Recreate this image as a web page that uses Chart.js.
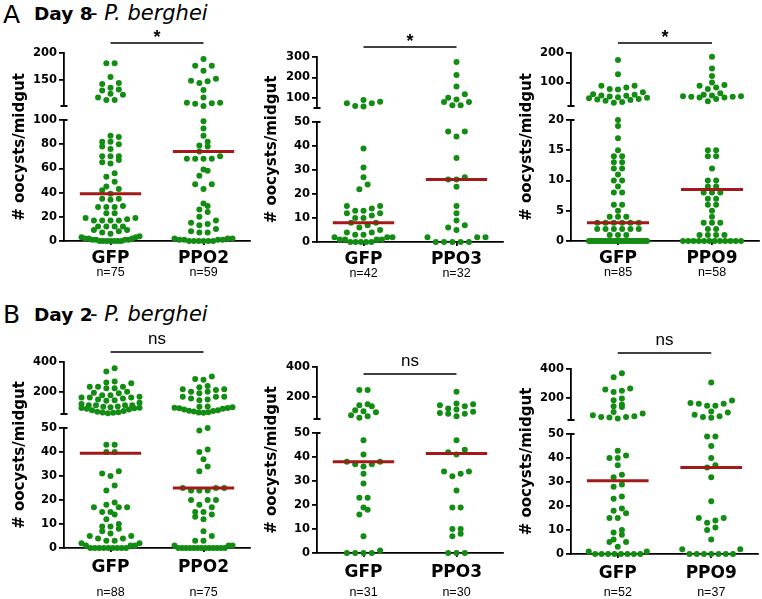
<!DOCTYPE html>
<html>
<head>
<meta charset="utf-8">
<script src="https://cdn.jsdelivr.net/npm/chart.js@4.4.1/dist/chart.umd.min.js"></script>
<style>
  body { margin: 0; width: 762px; height: 599px; background: #fff; position: relative; overflow: hidden; }
  canvas { position: absolute; }
  .t { position: absolute; white-space: nowrap; line-height: 1; font-family: 'DejaVu Sans'; color: #000; }
</style>
</head>
<body>
<div class="t" style="left:3px;top:2px;font-size:25px">A</div>
<div class="t" style="left:34px;top:5px;font-size:18.5px;font-weight:bold">Day 8</div>
<div class="t" style="left:90px;top:3px;font-size:21px">-<i> P. berghei</i></div>
<div class="t" style="left:3px;top:302px;font-size:25px">B</div>
<div class="t" style="left:34px;top:306px;font-size:18.5px;font-weight:bold">Day 2</div>
<div class="t" style="left:90px;top:304px;font-size:21px">-<i> P. berghei</i></div>
<script>
// ---- Day 8 ----
const catsA1 = ['GFP', 'PPO2'];
const nA1 = ['n=75', 'n=59'];
const gfpA1 = [181, 181, 155, 144, 142, 135, 132, 130, 124, 122, 117, 112, 112,
  87, 86, 82, 82, 80, 78, 76, 70, 70, 70, 67, 65, 64, 56, 53, 49, 45, 43, 42, 39, 35, 35, 34, 29, 28, 28, 28,
  23, 23, 19, 19, 18, 17, 17, 17, 17, 12, 12, 12, 12, 9, 9, 8, 7, 6,
  4, 3, 3, 2, 2, 2, 1, 1, 1, 1, 0, 0, 0, 0, 0, 0, 0];
const ppo2A1 = [189, 176, 176, 167, 152, 148, 147, 144, 131, 117, 107, 107, 106, 105, 101,
  99, 93, 87, 82, 79, 78, 74, 70, 68, 68, 68, 68, 59, 58, 54, 47, 47, 43, 31, 29, 26, 24, 20, 17, 15, 14, 13, 10, 8, 7, 7,
  2, 2, 2, 1, 1, 1, 1, 0, 0, 0, 0, 0, 0];
const medA1 = [39, 74];
const upRangeA1 = [101, 200];
const lowRangeA1 = [0, 100];
const upTicksA1 = [150, 200];
const lowTicksA1 = [0, 20, 40, 60, 80, 100];

const catsA2 = ['GFP', 'PPO3'];
const nA2 = ['n=42', 'n=32'];
const gfpA2 = [89, 81, 73, 73, 60, 57,
  39, 31, 27, 24, 22, 15, 15, 14, 13, 13, 12, 12, 11, 10, 10, 8, 8, 7, 6, 5, 4, 4, 3, 3, 2, 2, 2, 1, 1, 1, 1, 0, 0, 0, 0, 0];
const ppo3A2 = [276, 212, 156, 118, 100, 92, 79, 79, 63, 63,
  46, 46, 44, 35, 27, 26, 26, 23, 15, 12, 9, 7, 6, 5, 2, 2, 2, 0, 0, 0, 0, 0];
const medA2 = [8, 26];
const upRangeA2 = [50, 300];
const lowRangeA2 = [0, 50];
const upTicksA2 = [100, 200, 300];
const lowTicksA2 = [0, 10, 20, 30, 40, 50];

const catsA3 = ['GFP', 'PPO9'];
const nA3 = ['n=85', 'n=58'];
const gfpA3 = [176, 128, 89, 89, 83, 78, 76, 67, 60, 58, 56, 55, 52, 50, 48, 46, 44, 42, 40, 38, 34, 31,
  20, 19, 17, 15, 14, 14, 13, 13, 12, 12, 11, 10, 10, 9, 8, 8, 6, 6, 5, 4, 4, 4, 3, 3, 3, 3, 3, 3, 2, 2, 2, 2, 2, 2, 1, 1, 1,
  0, 0, 0, 0, 0, 0, 0, 0, 0, 0, 0, 0, 0, 0, 0, 0, 0, 0, 0, 0, 0, 0, 0, 0, 0, 0];
const ppo9A3 = [187, 147, 122, 100, 91, 89, 83, 78, 63, 58, 56, 53, 53, 51, 51, 49, 49, 44, 36,
  15, 15, 14, 14, 12, 10, 10, 9, 9, 8, 8, 8, 7, 7, 6, 6, 5, 4, 3, 3, 3, 2, 2, 1, 1, 1, 1,
  0, 0, 0, 0, 0, 0, 0, 0, 0, 0, 0, 0];
const medA3 = [3, 8.5];
const upRangeA3 = [20, 200];
const lowRangeA3 = [0, 20];
const upTicksA3 = [100, 200];
const lowTicksA3 = [0, 5, 10, 15, 20];

// ---- Day 2 ----
const catsB1 = ['GFP', 'PPO2'];
const nB1 = ['n=88', 'n=75'];
const gfpB1 = [358, 336, 268, 262, 257, 234, 234, 234, 223, 223, 200, 193, 189, 177, 177, 166, 161, 161, 161, 155,
  148, 143, 139, 125, 118, 109, 109, 109, 109, 100, 98, 95, 92, 90, 88, 85, 80, 75, 70, 65, 62, 60, 58, 55,
  43, 43, 40, 40, 32, 31, 30, 26, 24, 19, 18, 17, 17, 17, 15, 15, 14, 12, 10, 9, 9, 8, 7, 6, 5, 5, 4, 4, 3, 3,
  2, 2, 1, 1, 1, 0, 0, 0, 0, 0, 0, 0, 0, 0];
const ppo2B1 = [302, 286, 280, 239, 230, 216, 216, 211, 200, 200, 189, 166, 166, 166, 155, 148, 143,
  100, 98, 95, 92, 90, 88, 85, 80, 75, 72, 70, 66, 62, 60, 58,
  50, 49, 41, 40, 37, 34, 32, 25, 25, 25, 24, 24, 24, 20, 20, 20, 18, 17, 15, 15, 14, 13, 12, 7, 5, 3, 3,
  1, 1, 1, 0, 0, 0, 0, 0, 0, 0, 0, 0, 0, 0, 0, 0];
const medB1 = [39.5, 25];
const upRangeB1 = [50, 400];
const lowRangeB1 = [0, 50];
const upTicksB1 = [200, 400];
const lowTicksB1 = [0, 10, 20, 30, 40, 50];

const catsB2 = ['GFP', 'PPO3'];
const nB2 = ['n=31', 'n=30'];
const gfpB2 = [245, 245, 150, 143, 136, 109, 102, 95, 75, 68, 59,
  47, 41, 38, 38, 37, 37, 36, 33, 29, 23, 23, 19, 18, 16, 7, 1, 0, 0, 0, 0];
const ppo3B2 = [234, 155, 150, 143, 136, 120, 114, 98, 91, 86, 86, 68,
  47, 43, 42, 41, 34, 34, 33, 32, 26, 19, 19, 10, 10, 8, 7, 0, 0, 0];
const medB2 = [38, 41.5];
const upRangeB2 = [50, 400];
const lowRangeB2 = [0, 50];
const upTicksB2 = [200, 400];
const lowTicksB2 = [0, 10, 20, 30, 40, 50];

const catsB3 = ['GFP', 'PPO9'];
const nB3 = ['n=52', 'n=37'];
const gfpB3 = [370, 343, 267, 260, 250, 243, 198, 186, 157, 145, 140, 105, 95, 83, 76, 71, 71, 67, 60,
  43, 41, 40, 40, 37, 33, 32, 29, 28, 24, 23, 19, 18, 17, 15, 15, 10, 9, 8, 6, 5, 5, 3, 1, 1,
  0, 0, 0, 0, 0, 0, 0, 0];
const ppo9B3 = [307, 184, 166, 161, 161, 148, 148, 109, 102, 86, 75, 70, 66,
  49, 49, 45, 40, 37, 36, 32, 22, 15, 15, 14, 13, 11, 10, 6, 2, 2, 0, 0, 0, 0, 0, 0, 0];
const medB3 = [30.5, 36];
const upRangeB3 = [50, 400];
const lowRangeB3 = [0, 50];
const upTicksB3 = [200, 400];
const lowTicksB3 = [0, 10, 20, 30, 40, 50];

const sigA = ['*', '*', '*'];
const sigB = ['ns', 'ns', 'ns'];

const GREEN = '#128c12';
const RED = '#a31818';
const DOT_R = 3;
const STEP = 8.3;     // px between dots in a row
const MAX_W = 58;     // widest a row may get
const BIN_H = 5.5;    // dots closer than this (px) share a row
const MED_HALF = 0.33;
const TITLE_LH = 18;

// page geometry for each panel (layout only)
const panels = [
  { box: [0, 25, 255, 265], axisX: 64, rightX: 250, topY: 53, upBotY: 106, lowTopY: 120, zeroY: 241, titleX: 20,
    h1: 25, labOff: 17.5, nOff: 32, sigY: 43, sig: sigA[0], cats: catsA1, nl: nA1, groups: [gfpA1, ppo2A1], med: medA1,
    up: upRangeA1, low: lowRangeA1, upTicks: upTicksA1, lowTicks: lowTicksA1 },
  { box: [248, 25, 260, 265], axisX: 317, rightX: 503, topY: 57, upBotY: 108, lowTopY: 122, zeroY: 242, titleX: 272,
    h1: 25, labOff: 17.5, nOff: 32, sigY: 47, sig: sigA[1], cats: catsA2, nl: nA2, groups: [gfpA2, ppo3A2], med: medA2,
    up: upRangeA2, low: lowRangeA2, upTicks: upTicksA2, lowTicks: lowTicksA2 },
  { box: [505, 25, 257, 265], axisX: 571, rightX: 760, topY: 53, upBotY: 106, lowTopY: 120, zeroY: 241, titleX: 527,
    h1: 25, labOff: 17.5, nOff: 32, sigY: 43, sig: sigA[2], cats: catsA3, nl: nA3, groups: [gfpA3, ppo9A3], med: medA3,
    up: upRangeA3, low: lowRangeA3, upTicks: upTicksA3, lowTicks: lowTicksA3 },
  { box: [0, 325, 255, 290], axisX: 64, rightX: 250, topY: 362, upBotY: 414, lowTopY: 428, zeroY: 548, titleX: 20,
    h1: 30, labOff: 20, nOff: 45, sigY: 352, sig: sigB[0], cats: catsB1, nl: nB1, groups: [gfpB1, ppo2B1], med: medB1,
    up: upRangeB1, low: lowRangeB1, upTicks: upTicksB1, lowTicks: lowTicksB1 },
  { box: [248, 325, 260, 290], axisX: 317, rightX: 503, topY: 367, upBotY: 419, lowTopY: 433, zeroY: 553, titleX: 272,
    h1: 30, labOff: 20, nOff: 40, sigY: 374, sig: sigB[1], cats: catsB2, nl: nB2, groups: [gfpB2, ppo3B2], med: medB2,
    up: upRangeB2, low: lowRangeB2, upTicks: upTicksB2, lowTicks: lowTicksB2 },
  { box: [505, 325, 257, 290], axisX: 571, rightX: 758, topY: 369, upBotY: 420, lowTopY: 434, zeroY: 554, titleX: 527,
    h1: 30, labOff: 20, nOff: 39, sigY: 353, sig: sigB[2], cats: catsB3, nl: nB3, groups: [gfpB3, ppo9B3], med: medB3,
    up: upRangeB3, low: lowRangeB3, upTicks: upTicksB3, lowTicks: lowTicksB3 }
];

Chart.defaults.font.family = 'DejaVu Sans';
Chart.defaults.color = '#000';

const tickFont = { family: 'DejaVu Sans', weight: 'bold', size: 11.5 };

function setTicks(list) {
  return scale => { scale.ticks = list.map(v => ({ value: v })); };
}

// arrange the dots of each column in rows, like a scatter dot plot
function swarm(chart, p) {
  const xs = chart.scales.x;
  const pts = [];
  [0, 1].forEach(di => {
    const ds = chart.data.datasets[di];
    const sc = chart.scales[ds.yAxisID];
    ds.data.forEach(pt => pts.push({ pt, py: sc.getPixelForValue(pt.y) }));
  });
  p.cats.forEach((_, c) => {
    const grp = pts.filter(o => o.pt.c === c).sort((a, b) => b.py - a.py || a.pt.y - b.pt.y);
    const cx = xs.getPixelForValue(c + 1);
    let i = 0;
    while (i < grp.length) {
      let j = i + 1;
      while (j < grp.length && grp[i].py - grp[j].py < BIN_H) j++;
      const row = grp.slice(i, j).sort((a, b) => a.pt.y - b.pt.y);
      const n = row.length;
      const step = n > 1 ? Math.min(STEP, MAX_W / (n - 1)) : 0;
      const slots = [];
      for (let k = 0; k < n; k++) slots.push((k - (n - 1) / 2) * step);
      slots.sort((a, b) => Math.abs(a) - Math.abs(b) || a - b);
      row.forEach((o, k) => { o.pt.x = xs.getValueForPixel(cx + slots[k]); });
      i = j;
    }
  });
  chart.update('none');
}

function makePanel(p) {
  const [L, T, W, H] = p.box;
  const cv = document.createElement('canvas');
  cv.width = W; cv.height = H;
  cv.style.left = L + 'px';
  cv.style.top = T + 'px';
  document.body.appendChild(cv);

  const h2 = 22;
  const padLeft = p.titleX - L - TITLE_LH / 2;
  const yW = p.axisX - L - padLeft - TITLE_LH;
  const padBottom = T + H - p.zeroY - p.h1 - h2;

  const upper = [], lower = [];
  p.groups.forEach((vals, c) => {
    vals.forEach(v => (v > p.low[1] ? upper : lower).push({ x: c + 1, y: v, c }));
  });

  const dotStyle = { backgroundColor: GREEN, borderWidth: 0, pointRadius: DOT_R, pointHoverRadius: DOT_R, clip: false, order: 1 };
  const datasets = [
    Object.assign({ data: upper, yAxisID: 'yUp' }, dotStyle),
    Object.assign({ data: lower, yAxisID: 'yLow' }, dotStyle)
  ];
  p.med.forEach((m, c) => {
    datasets.push({
      data: [{ x: c + 1 - MED_HALF, y: m }, { x: c + 1 + MED_HALF, y: m }],
      yAxisID: m > p.low[1] ? 'yUp' : 'yLow',
      showLine: true, borderColor: RED, borderWidth: 3, pointRadius: 0, clip: false, order: 0
    });
  });

  const axisLine = { color: '#000', width: 1.8 };
  const tickGrid = { drawOnChartArea: false, tickLength: 5, color: '#000', lineWidth: 1.8 };

  const deco = {
    id: 'deco',
    beforeDatasetsDraw(chart) {
      const ctx = chart.ctx;
      const up = chart.scales.yUp, lo = chart.scales.yLow, xs = chart.scales.x;
      const ax = up.right;
      ctx.save();
      ctx.strokeStyle = '#000';
      ctx.lineWidth = 1.8;
      ctx.beginPath();
      ctx.moveTo(ax - 3.5, up.bottom); ctx.lineTo(ax + 3.5, up.bottom);
      ctx.moveTo(ax, lo.top); ctx.lineTo(ax + 3.5, lo.top);
      ctx.stroke();
      // significance bar
      const y = p.sigY - T;
      const x1 = xs.getPixelForValue(1), x2 = xs.getPixelForValue(2);
      ctx.lineWidth = 1.6;
      ctx.beginPath();
      ctx.moveTo(x1, y); ctx.lineTo(x2, y);
      ctx.stroke();
      ctx.fillStyle = '#000';
      ctx.textAlign = 'center';
      if (p.sig === '*') {
        ctx.font = 'bold 18px "Liberation Sans"';
        ctx.textBaseline = 'middle';
        ctx.fillText(p.sig, (x1 + x2) / 2, y - 5);
      } else {
        ctx.font = '17px "Liberation Sans"';
        ctx.textBaseline = 'alphabetic';
        ctx.fillText(p.sig, (x1 + x2) / 2, y - 8);
      }
      ctx.restore();
    }
  };

  const chart = new Chart(cv, {
    type: 'scatter',
    data: { datasets },
    plugins: [deco],
    options: {
      responsive: false,
      animation: false,
      devicePixelRatio: 1,
      events: [],
      layout: { padding: { left: padLeft, right: L + W - p.rightX, top: p.topY - T, bottom: padBottom } },
      plugins: {
        legend: { display: false },
        tooltip: { enabled: false },
        title: {
          display: true, position: 'left', fullSize: false, padding: 0,
          text: '# oocysts/midgut', color: '#000',
          font: { family: 'DejaVu Sans', weight: 'bold', size: 15, lineHeight: TITLE_LH / 15 }
        }
      },
      scales: {
        x: {
          type: 'linear', position: 'bottom', min: 0.5, max: 2.5, weight: 0,
          afterBuildTicks: setTicks([1, 2]),
          afterFit: s => { s.height = p.h1; },
          ticks: {
            callback: (v, i) => p.cats[i], autoSkip: false, maxRotation: 0,
            font: { family: 'DejaVu Sans', weight: 'bold', size: 17, lineHeight: 1.2 },
            padding: p.labOff - 4 - 10.2
          },
          grid: { drawOnChartArea: false, tickLength: 4, color: '#000', lineWidth: 1.8 },
          border: axisLine
        },
        xN: {
          type: 'linear', position: 'bottom', min: 0.5, max: 2.5, weight: 1,
          afterBuildTicks: setTicks([1, 2]),
          afterFit: s => { s.height = h2; },
          ticks: {
            callback: (v, i) => p.nl[i], autoSkip: false, maxRotation: 0,
            font: { family: 'Liberation Sans', size: 12.5, lineHeight: 1.2 },
            padding: p.nOff - p.h1 - 7.5
          },
          grid: { display: false, drawTicks: false, tickLength: 0 },
          border: { display: false }
        },
        yUp: {
          type: 'linear', position: 'left', stack: 'y', stackWeight: p.upBotY - p.topY, weight: 3,
          min: p.up[0], max: p.up[1],
          afterBuildTicks: setTicks(p.upTicks),
          afterFit: s => { s.width = yW; },
          ticks: { font: tickFont, padding: 2, autoSkip: false },
          grid: tickGrid,
          border: axisLine
        },
        yGap: {
          type: 'linear', position: 'left', stack: 'y', stackWeight: p.lowTopY - p.upBotY, weight: 2,
          min: 0, max: 1,
          afterFit: s => { s.width = yW; },
          ticks: { display: false },
          grid: { display: false },
          border: { display: false }
        },
        yLow: {
          type: 'linear', position: 'left', stack: 'y', stackWeight: p.zeroY - p.lowTopY, weight: 1,
          min: p.low[0], max: p.low[1],
          afterBuildTicks: setTicks(p.lowTicks),
          afterFit: s => { s.width = yW; },
          ticks: { font: tickFont, padding: 2, autoSkip: false },
          grid: tickGrid,
          border: axisLine
        }
      }
    }
  });
  swarm(chart, p);
}

panels.forEach(makePanel);
</script>
</body>
</html>
